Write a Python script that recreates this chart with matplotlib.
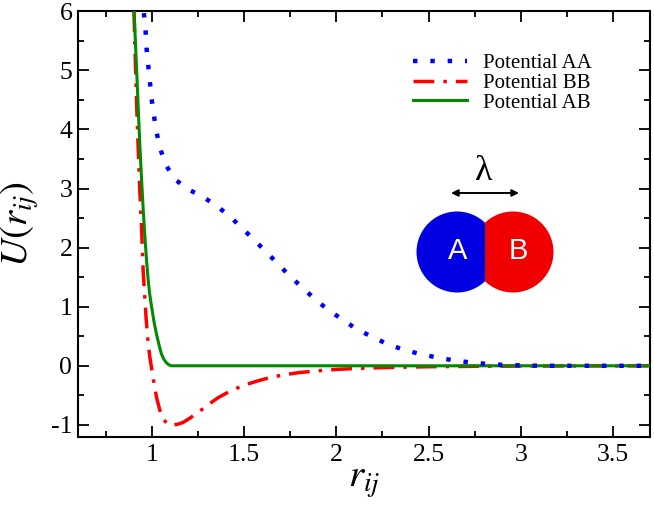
import matplotlib
matplotlib.use("Agg")
import matplotlib.pyplot as plt
from matplotlib.patches import Circle, Rectangle

plt.rcParams['font.family'] = ['Liberation Serif', 'DejaVu Serif']
plt.rcParams['mathtext.fontset'] = 'stix'
plt.rcParams['axes.unicode_minus'] = False

# potential AA (dotted blue)
r_aa = [0.958, 0.967, 0.972, 0.981, 0.990, 0.999, 1.012, 1.026, 1.046, 1.075,
        1.124, 1.196, 1.277, 1.351, 1.423, 1.490, 1.555, 1.620, 1.685, 1.748,
        1.817, 1.884, 1.954, 2.030, 2.106, 2.187, 2.272, 2.357, 2.446, 2.536,
        2.620, 2.714, 2.805, 2.895, 2.985, 3.100, 3.700]
u_aa = [5.97, 5.67, 5.38, 5.10, 4.82, 4.53, 4.24, 3.96, 3.68, 3.41,
        3.16, 2.99, 2.86, 2.71, 2.53, 2.33, 2.13, 1.93, 1.72, 1.52,
        1.32, 1.13, 0.95, 0.79, 0.63, 0.50, 0.375, 0.28, 0.205, 0.147,
        0.10, 0.061, 0.034, 0.017, 0.008, 0.0, 0.0]

# potential BB (dash-dot red)
r_bb = [0.904, 0.912, 0.920, 0.928, 0.936, 0.945, 0.954, 0.962, 0.970, 0.980,
        0.990, 1.000, 1.013, 1.026, 1.044, 1.062, 1.080, 1.095, 1.107, 1.122,
        1.140, 1.170, 1.210, 1.260, 1.310, 1.360, 1.430, 1.500, 1.570, 1.640,
        1.720, 1.800, 1.900, 2.000, 2.100, 2.200, 2.350, 2.500, 2.750, 3.000,
        3.250, 3.500, 3.700]
u_bb = [6.0, 5.1, 4.3, 3.6, 2.95, 2.35, 1.6, 1.2, 0.8, 0.42,
        0.15, -0.05, -0.3, -0.53, -0.75, -0.89, -0.97, -1.0, -1.01, -1.0,
        -0.99, -0.96, -0.88, -0.77, -0.65, -0.54, -0.42, -0.33, -0.26, -0.20,
        -0.15, -0.115, -0.085, -0.062, -0.047, -0.036, -0.024, -0.016, -0.009, -0.005,
        -0.003, -0.002, -0.0015]

# potential AB (solid green)
r_ab = [0.905, 0.913, 0.920, 0.928, 0.935, 0.942, 0.948, 0.955, 0.963, 0.972,
        0.981, 0.990, 1.000, 1.013, 1.026, 1.040, 1.053, 1.066, 1.080, 1.094,
        1.107, 1.122, 3.700]
u_ab = [6.0, 5.4, 4.9, 4.3, 3.8, 3.35, 3.0, 2.6, 2.2, 1.8,
        1.45, 1.2, 0.99, 0.74, 0.54, 0.35, 0.20, 0.11, 0.05, 0.015,
        0.0, 0.0, 0.0]

labels = ["Potential AA", "Potential BB", "Potential AB"]
x_ticks = [1, 1.5, 2, 2.5, 3, 3.5]
y_ticks = [-1, 0, 1, 2, 3, 4, 5, 6]

fig = plt.figure(figsize=(6.54, 5.07), dpi=100)
ax = fig.add_axes([0.119, 0.1387, 0.875, 0.839])

l_aa, = ax.plot(r_aa, u_aa, color='#0000ff', lw=3.2, linestyle=(0, (1, 2.9)), zorder=4)
l_bb, = ax.plot(r_bb, u_bb, color='#ff0000', lw=2.5, linestyle=(0, (6, 2.6, 1, 2.6)), zorder=2)
l_ab, = ax.plot(r_ab, u_ab, color='#008b00', lw=2.2, zorder=3)

ax.set_xlim(0.6, 3.7)
ax.set_ylim(-1.2, 6)
ax.set_xticks(x_ticks)
ax.set_xticklabels([f"{t:g}" for t in x_ticks])
ax.set_yticks(y_ticks)
ax.set_yticklabels([f"{t:g}" for t in y_ticks])
ax.set_xticks([0.75, 1.25, 1.75, 2.25, 2.75, 3.25], minor=True)
ax.set_yticks([-0.5, 0.5, 1.5, 2.5, 3.5, 4.5, 5.5], minor=True)
ax.tick_params(which='both', direction='in', top=True, right=True, width=1.3, labelsize=18.5)
ax.tick_params(which='major', length=8)
ax.tick_params(which='minor', length=4.5)
ax.tick_params(axis='x', pad=5)
ax.tick_params(axis='y', pad=4)
for s in ax.spines.values():
    s.set_linewidth(1.5)

ax.set_xlabel(r"$r_{ij}$", fontsize=28, labelpad=-2)
ax.set_ylabel(r"$U(r_{ij})$", fontsize=28, labelpad=7)

ax.legend([l_aa, l_bb, l_ab], labels, loc='upper left', bbox_to_anchor=(0.5857, 0.9),
          frameon=False, fontsize=15, handlelength=2.6, handletextpad=0.75,
          labelspacing=0.0, borderpad=0, borderaxespad=0)

# inset sketch of the A-B dimer, in pixel-like coordinates
ins = fig.add_axes([405 / 654, 1 - 300 / 507, 160 / 654, 150 / 507])
ins.set_xlim(405, 565)
ins.set_ylim(300, 150)
ins.axis('off')
ins.add_patch(Circle((457, 252), 40.5, color='#0000e0', lw=0))
red = Circle((513, 252), 40.5, color='#f00000', lw=0)
ins.add_patch(red)
clip = Rectangle((485, 150), 80, 150, transform=ins.transData)
red.set_clip_path(clip)
ins.text(458, 251, "A", color='white', fontsize=21, family=['Liberation Sans', 'DejaVu Sans'],
         ha='center', va='center')
ins.text(518, 251, "B", color='white', fontsize=21, family=['Liberation Sans', 'DejaVu Sans'],
         ha='center', va='center')
ins.annotate("", xy=(451, 193), xytext=(519, 193),
             arrowprops=dict(arrowstyle='<|-|>', color='black', lw=1.4,
                             mutation_scale=10, shrinkA=0, shrinkB=0))
ins.text(484, 172, "λ", fontsize=26, ha='center', va='center')

fig.savefig("out.png", dpi=100)
